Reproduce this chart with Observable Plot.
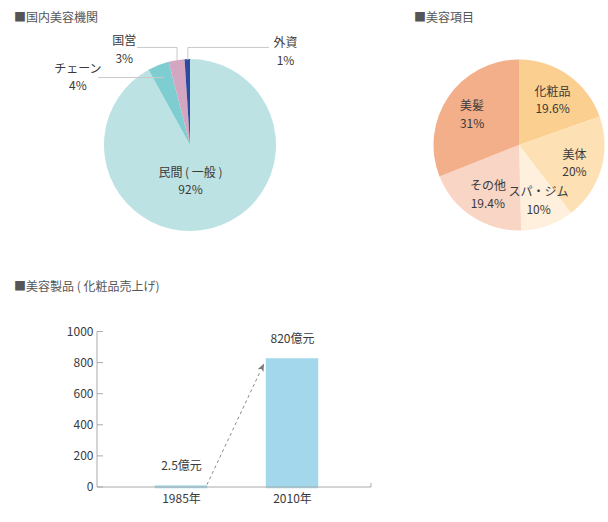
<!DOCTYPE html>
<html>
<head>
<meta charset="utf-8">
<script src="https://cdn.jsdelivr.net/npm/d3@7"></script>
<script src="https://cdn.jsdelivr.net/npm/@observablehq/plot@0.6"></script>
<style>
  html, body { margin: 0; padding: 0; background: #fff; }
  #root { position: relative; width: 608px; height: 522px; overflow: hidden; font-family: "Noto Sans CJK JP", "Noto Sans", sans-serif; }
  .title { position: absolute; font-size: 12px; line-height: 16px; color: #555; white-space: nowrap; }
  .panel { position: absolute; }
  .panel svg { overflow: visible; }
</style>
</head>
<body>
<div id="root">
  <div class="title" style="left:14px;top:9px">■国内美容機関</div>
  <div class="title" style="left:414px;top:9px">■美容項目</div>
  <div class="title" style="left:14px;top:278px">■美容製品 ( 化粧品売上げ)</div>
  <div class="panel" id="pie1" style="left:0;top:25px"></div>
  <div class="panel" id="pie2" style="left:400px;top:25px"></div>
  <div class="panel" id="bars" style="left:0;top:300px"></div>
</div>
<script>
// ---- data ----
const orgNames = ["民間 ( 一般 )", "チェーン", "国営", "外資"];
const orgShares = [92, 4, 3, 1];
const orgColors = ["#bde2e4", "#7ecdd0", "#d3a7c1", "#2c4a9e"];

const itemNames = ["化粧品", "美体", "スパ・ジム", "その他", "美髪"];
const itemShares = [19.6, 20, 10, 19.4, 31];
const itemColors = ["#fbcf8f", "#fde0b4", "#fef0dd", "#f9d5c6", "#f3ae8a"];

const years = ["1985年", "2010年"];
const sales = [2.5, 820];
const salesText = ["2.5億元", "820億元"];
const yTicks = [0, 200, 400, 600, 800, 1000];

// ---- helpers ----
const FONT = '"Noto Sans CJK JP", "Noto Sans", sans-serif';
const TEXT = "#3a3a3a";
const AXIS = "#aaaaaa";

function pieSlices(shares, colors) {
  const arcs = d3.pie().sort(null).value(d => d)(shares);
  return (index, scales) => {
    const {x, y} = scales;
    const r = Math.abs(x(1) - x(0));
    const g = d3.create("svg:g").attr("transform", `translate(${x(0)},${y(0)})`);
    g.selectAll("path").data(arcs).join("path")
      .attr("d", d3.arc().innerRadius(0).outerRadius(r))
      .attr("fill", (d, i) => colors[i]);
    return g.node();
  };
}
const mid = a => (a.startAngle + a.endAngle) / 2;

// ---- pie 1 : 国内美容機関 ----
const orgArcs = d3.pie().sort(null)(orgShares);
// callout layout (in unit-circle coordinates)
const orgLayout = [
  {label: [0, -0.40]},
  {label: [-1.31, 0.81], rho: 0.85, horizontalTo: -1.07},
  {label: [-0.77, 1.13], rho: 1.0, elbow: 1.14, to: -0.616},
  {label: [1.105, 1.105], rho: 1.0, elbow: 1.14, to: 0.907}
];
const orgLabels = orgNames.map((n, i) => ({
  text: n + "\n" + orgShares[i] + "%", x: orgLayout[i].label[0], y: orgLayout[i].label[1]
}));
const orgLeaders = [];
orgArcs.forEach((a, i) => {
  const L = orgLayout[i];
  if (L.rho == null) return;
  const px = L.rho * Math.sin(mid(a)), py = L.rho * Math.cos(mid(a));
  if (L.horizontalTo != null) {
    orgLeaders.push({k: i, x: px, y: py}, {k: i, x: L.horizontalTo, y: py});
  } else {
    orgLeaders.push({k: i, x: px, y: py}, {k: i, x: px, y: L.elbow}, {k: i, x: L.to, y: L.elbow});
  }
});

const pie1 = Plot.plot({
  width: 310, height: 225,
  marginLeft: 104, marginRight: 34, marginTop: 34, marginBottom: 19,
  x: {domain: [-1, 1], axis: null},
  y: {domain: [-1, 1], axis: null},
  style: {fontFamily: FONT, fontSize: "12px", background: "transparent", overflow: "visible"},
  marks: [
    pieSlices(orgShares, orgColors),
    Plot.line(orgLeaders, {x: "x", y: "y", z: "k", stroke: "#c9c9c9", strokeWidth: 1}),
    Plot.text(orgLabels, {x: "x", y: "y", text: "text", fill: TEXT, fontSize: 12, lineHeight: 1.45})
  ]
});
document.getElementById("pie1").append(pie1);

// ---- pie 2 : 美容項目 ----
const itemArcs = d3.pie().sort(null)(itemShares);
const itemLabels = itemArcs.map((a, i) => ({
  text: itemNames[i] + "\n" + itemShares[i] + "%",
  x: 0.67 * Math.sin(mid(a)), y: 0.67 * Math.cos(mid(a))
}));
const pie2 = Plot.plot({
  width: 208, height: 225,
  marginLeft: 33.5, marginRight: 3.5, marginTop: 34.5, marginBottom: 19.5,
  x: {domain: [-1, 1], axis: null},
  y: {domain: [-1, 1], axis: null},
  style: {fontFamily: FONT, fontSize: "12px", background: "transparent", overflow: "visible"},
  marks: [
    pieSlices(itemShares, itemColors),
    Plot.text(itemLabels, {x: "x", y: "y", text: "text", fill: TEXT, fontSize: 12, lineHeight: 1.45})
  ]
});
document.getElementById("pie2").append(pie2);

// ---- bar chart : 美容製品 ----
const salesData = years.map((yr, i) => ({year: yr, value: sales[i], label: salesText[i]}));

function axesAndArrow(index, scales, values, dims) {
  const {x, y} = scales;
  const g = d3.create("svg:g");
  const left = dims.marginLeft, right = dims.width - dims.marginRight;
  // y axis line + inward ticks
  g.append("line").attr("x1", left).attr("x2", left).attr("y1", y(0)).attr("y2", y(1000))
    .attr("stroke", AXIS);
  yTicks.forEach(t => {
    g.append("line").attr("x1", left).attr("x2", left + 6).attr("y1", y(t)).attr("y2", y(t)).attr("stroke", AXIS);
  });
  // x axis line with end tick
  g.append("line").attr("x1", left).attr("x2", right).attr("y1", y(0)).attr("y2", y(0)).attr("stroke", AXIS);
  g.append("line").attr("x1", right).attr("x2", right).attr("y1", y(0)).attr("y2", y(0) - 4).attr("stroke", AXIS);
  // dashed growth arrow
  const bw = typeof x.bandwidth === "function" ? x.bandwidth() : (x.bandwidth || 0);
  const x0 = x(years[0]) + bw + 1, y0 = y(sales[0]) - 2;
  const x1 = x(years[1]) - 3, y1 = y(sales[1]) + 4;
  const ang = Math.atan2(y1 - y0, x1 - x0);
  const hl = 8, hw = 3.2;
  const bx = x1 - hl * Math.cos(ang), by = y1 - hl * Math.sin(ang);
  g.append("line").attr("x1", x0).attr("y1", y0).attr("x2", bx).attr("y2", by)
    .attr("stroke", "#8a8a8a").attr("stroke-dasharray", "3,3").attr("stroke-width", 1);
  const nx = -Math.sin(ang), ny = Math.cos(ang);
  g.append("path")
    .attr("d", `M${x1},${y1}L${bx + nx * hw},${by + ny * hw}L${bx + Math.cos(ang) * 2},${by + Math.sin(ang) * 2}L${bx - nx * hw},${by - ny * hw}Z`)
    .attr("fill", "#7a7a7a");
  return g.node();
}

const bars = Plot.plot({
  width: 400, height: 222,
  marginLeft: 97, marginRight: 29, marginTop: 31.5, marginBottom: 35,
  x: {domain: years, paddingInner: 0.55, paddingOuter: 0.5, align: 0.52, label: null},
  y: {domain: [0, 1000], label: null},
  style: {fontFamily: FONT, fontSize: "12px", color: TEXT, background: "transparent", overflow: "visible"},
  marks: [
    Plot.barY(salesData, {x: "year", y: "value", fill: "#a3d8ec", stroke: "#a3d8ec", strokeWidth: 2.5}),
    axesAndArrow,
    Plot.axisY({ticks: yTicks, tickFormat: "d", tickSize: 0, tickPadding: 4, label: null, fill: TEXT, fontSize: 12}),
    Plot.axisX({tickSize: 0, tickPadding: 7, label: null, fill: TEXT, fontSize: 12}),
    Plot.text(salesData, {x: "year", y: "value", text: "label", dy: -20.5, fill: TEXT, fontSize: 12})
  ]
});
document.getElementById("bars").append(bars);
</script>
</body>
</html>
